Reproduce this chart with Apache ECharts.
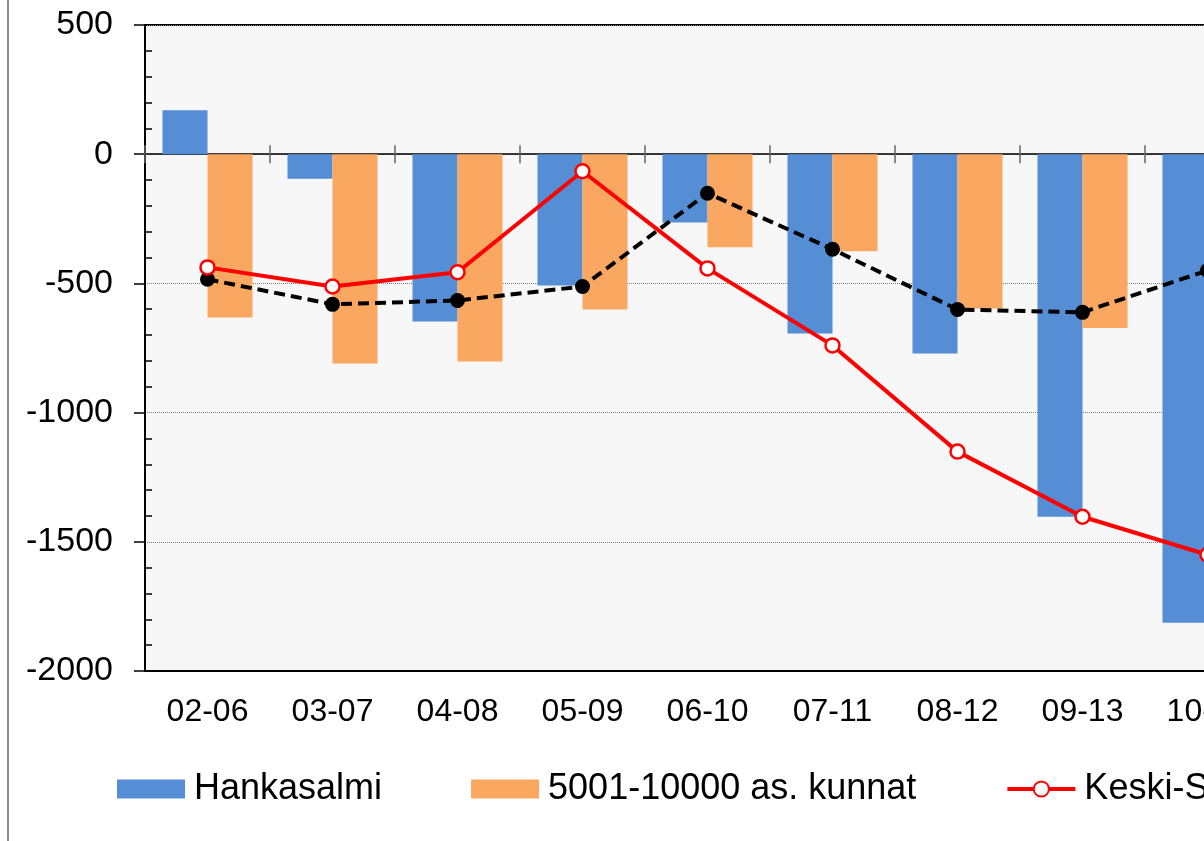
<!DOCTYPE html>
<html lang="fi">
<head>
    <meta charset="UTF-8">
    <title>Hankasalmi</title>
    <script src="https://cdn.jsdelivr.net/npm/echarts@6/dist/echarts.min.js"></script>
    <style>
        html, body { margin: 0; padding: 0; overflow: hidden; background: #fff; }
        #main { position: absolute; left: 0; top: 0; width: 1300px; height: 841px; }
        #frame { position: absolute; left: 7px; top: 0; width: 2px; height: 841px; background: #8c8c8c; }
    </style>
</head>
<body>
    <div id="main"></div>
    <div id="frame"></div>
    <script>
        // kaudet (viimeinen näkyy vain osittain)
        var categories = ['02-06', '03-07', '04-08', '05-09', '06-10', '07-11', '08-12', '09-13', '10-14'];
        var hankasalmi = [170, -95, -647, -508, -264, -694, -771, -1403, -1813];
        var kunnat = [-632, -810, -802, -601, -360, -376, -597, -673, -700];
        var keskiSuomi = [-438, -512, -457, -66, -442, -740, -1151, -1403, -1550];
        var kokoMaa = [-484, -581, -566, -512, -151, -368, -601, -612, -450];
        var yTicks = [-2000, -1500, -1000, -500, 0, 500];

        var font = '"Liberation Sans", Arial, sans-serif';
        var myChart = echarts.init(document.getElementById('main'));

        var option = {
            animation: false,
            grid: {
                left: 145, top: 25, width: 1125, height: 646,
                show: true, backgroundColor: '#f7f7f7', borderColor: '#000', borderWidth: 2
            },
            legend: {
                left: 115, top: 771, padding: 0,
                itemWidth: 68, itemHeight: 19, itemGap: 89,
                textStyle: { fontSize: 36, fontFamily: font, color: '#000', padding: [0, 0, 0, 4] },
                data: [
                    { name: 'Hankasalmi', icon: 'rect' },
                    { name: '5001-10000 as. kunnat', icon: 'rect' },
                    { name: 'Keski-Suomi', lineStyle: { width: 4 } },
                    { name: 'Koko maa', lineStyle: { width: 4 } }
                ]
            },
            xAxis: [
                {   // alareunan tekstit
                    type: 'category', data: categories, position: 'bottom',
                    axisLine: { onZero: false, lineStyle: { color: '#000', width: 2 } },
                    axisTick: { show: false },
                    axisLabel: { fontSize: 32, fontFamily: font, color: '#000', margin: 25 },
                    splitLine: { show: false }
                },
                {   // nollaviiva, merkit alaspäin
                    type: 'category', data: categories, position: 'bottom',
                    axisLine: { onZero: true, onZeroAxisIndex: 0, lineStyle: { color: '#000', width: 1.5 } },
                    axisTick: { show: true, length: 9, lineStyle: { color: '#666', width: 1.5 } },
                    axisLabel: { show: false },
                    splitLine: { show: false }
                },
                {   // merkit ylöspäin
                    type: 'category', data: categories, position: 'top',
                    axisLine: { show: false, onZero: true, onZeroAxisIndex: 0 },
                    axisTick: { show: true, length: 9, lineStyle: { color: '#666', width: 1.5 } },
                    axisLabel: { show: false },
                    splitLine: { show: false }
                }
            ],
            yAxis: [
                {
                    type: 'value', position: 'left',
                    min: yTicks[0], max: yTicks[yTicks.length - 1], interval: 500,
                    axisLine: { show: true, lineStyle: { color: '#000', width: 2 } },
                    axisTick: { show: true, length: 11, lineStyle: { color: '#000', width: 1.5 } },
                    axisLabel: {
                        fontSize: 34, fontFamily: font, color: '#000', margin: 32,
                        formatter: function (v) { return String(v); }
                    },
                    splitLine: { show: true, lineStyle: { color: '#7f7f7f', width: 1, type: 'dotted' } }
                },
                {   // pikkumerkit sisäänpäin
                    type: 'value', position: 'left',
                    min: yTicks[0], max: yTicks[yTicks.length - 1], interval: 500,
                    axisLine: { show: false },
                    axisTick: { show: false, inside: true },
                    minorTick: { show: true, splitNumber: 5, length: 7, lineStyle: { color: '#000', width: 1.5 } },
                    axisLabel: { show: false },
                    splitLine: { show: false }
                }
            ],
            series: [
                {
                    name: 'Hankasalmi', type: 'bar', data: hankasalmi,
                    barGap: '0%', barCategoryGap: '28%',
                    itemStyle: { color: '#558ed5' }
                },
                {
                    name: '5001-10000 as. kunnat', type: 'bar', data: kunnat,
                    itemStyle: { color: '#f9a761' }
                },
                {
                    name: 'Keski-Suomi', type: 'line', data: keskiSuomi, z: 5,
                    symbol: 'circle', symbolSize: 14,
                    lineStyle: { color: '#ff0000', width: 4 },
                    itemStyle: { color: '#fff', borderColor: '#ff0000', borderWidth: 2.5 }
                },
                {
                    name: 'Koko maa', type: 'line', data: kokoMaa, z: 4,
                    symbol: 'circle', symbolSize: 15,
                    lineStyle: { color: '#000', width: 4, type: [11, 6] },
                    itemStyle: { color: '#000' }
                }
            ]
        };

        myChart.setOption(option);
    </script>
</body>
</html>
